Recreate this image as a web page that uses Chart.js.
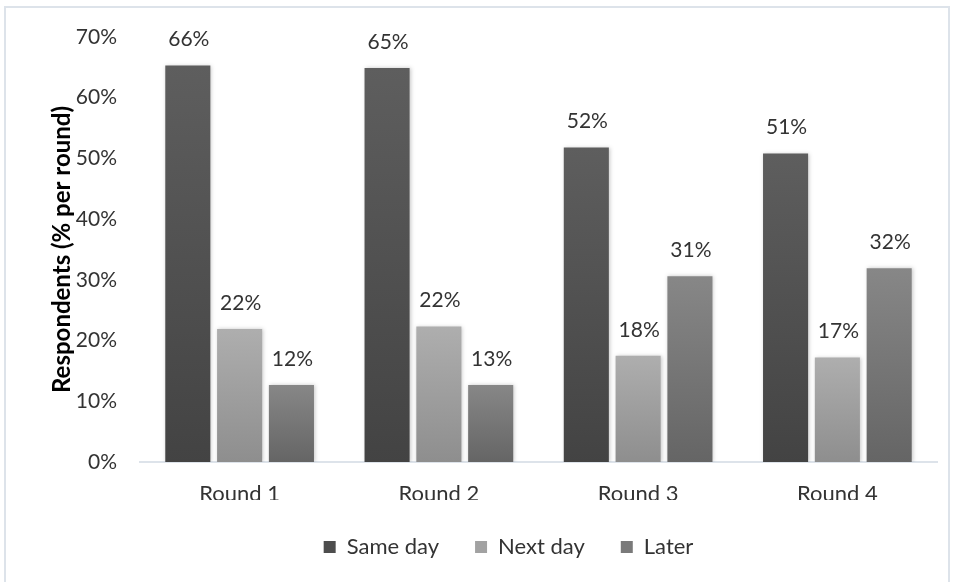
<!DOCTYPE html>
<html>
<head>
<meta charset="utf-8">
<script src="https://cdn.jsdelivr.net/npm/chart.js@4.4.1/dist/chart.umd.min.js"></script>
<style>
  html, body { margin: 0; padding: 0; background: #fff; }
  #wrap { position: relative; width: 955px; height: 582px; }
</style>
</head>
<body>
<div id="wrap"><canvas id="chart" width="955" height="582"></canvas></div>
<script>
// categories and series
const rounds = ['Round 1', 'Round 2', 'Round 3', 'Round 4'];
const seriesNames = ['Same day', 'Next day', 'Later'];
const sameDay = [65.3, 64.9, 51.8, 50.8];
const nextDay = [21.9, 22.3, 17.5, 17.2];
const later = [12.7, 12.7, 30.6, 31.9];
// labels as printed above the bars
const sameDayText = ['66%', '65%', '52%', '51%'];
const nextDayText = ['22%', '22%', '18%', '17%'];
const laterText = ['12%', '13%', '31%', '32%'];
const yTicks = [0, 10, 20, 30, 40, 50, 60, 70];

// gradient top / bottom colours per series, plus a flat colour for the legend
const gradTop = ['#5e5e5e', '#aeaeae', '#878787'];
const gradBottom = ['#434343', '#8e8e8e', '#656565'];
const legendColors = ['#4d4d4d', '#a2a2a2', '#7a7a7a'];

const FONT = 'Lato, "Open Sans", sans-serif';
const TEXT = '#333333';

// each bar gets its own vertical gradient
function barGradient(ctx) {
    const chart = ctx.chart;
    const y = chart.scales.y;
    if (!y || ctx.raw == null) return gradTop[ctx.datasetIndex];
    const top = y.getPixelForValue(ctx.raw);
    const bottom = y.getPixelForValue(0);
    if (!isFinite(top) || !isFinite(bottom) || top === bottom) return gradTop[ctx.datasetIndex];
    const g = chart.ctx.createLinearGradient(0, top, 0, bottom);
    g.addColorStop(0, gradTop[ctx.datasetIndex]);
    g.addColorStop(1, gradBottom[ctx.datasetIndex]);
    return g;
}

// outer frame of the picture
const framePlugin = {
    id: 'frame',
    beforeDraw(chart) {
        const c = chart.ctx;
        c.save();
        c.strokeStyle = '#dde3ea';
        c.lineWidth = 2;
        c.strokeRect(5, 7, 944, 590);
        c.restore();
    }
};

// legend sits a bit right of the canvas centre in the original
const legendShift = {
    id: 'legendShift',
    afterLayout(chart) {
        if (chart.legend) {
            chart.legend.left += 16;
            chart.legend.right += 16;
        }
    }
};

// soft shadow behind bars
const shadowPlugin = {
    id: 'barShadow',
    beforeDatasetsDraw(chart) {
        const c = chart.ctx;
        c.save();
        c.shadowColor = 'rgba(0,0,0,0.22)';
        c.shadowBlur = 4;
        c.shadowOffsetX = 1;
        c.shadowOffsetY = 0;
    },
    afterDatasetsDraw(chart) {
        chart.ctx.restore();
    }
};

// value labels above the bars
const valueLabels = {
    id: 'valueLabels',
    afterDatasetsDraw(chart) {
        const c = chart.ctx;
        const texts = [sameDayText, nextDayText, laterText];
        c.save();
        c.font = '21px ' + FONT;
        c.fillStyle = TEXT;
        c.textAlign = 'center';
        c.textBaseline = 'middle';
        chart.data.datasets.forEach((ds, di) => {
            chart.getDatasetMeta(di).data.forEach((bar, i) => {
                c.fillText(texts[di][i], bar.x + 1, bar.y - 26);
            });
        });
        c.restore();
    }
};

new Chart(document.getElementById('chart'), {
    type: 'bar',
    data: {
        labels: rounds,
        datasets: [
            { label: seriesNames[0], data: sameDay },
            { label: seriesNames[1], data: nextDay },
            { label: seriesNames[2], data: later }
        ].map(ds => Object.assign(ds, {
            backgroundColor: barGradient,
            borderWidth: 0,
            categoryPercentage: 0.78,
            barPercentage: 0.87
        }))
    },
    options: {
        responsive: false,
        animation: false,
        layout: { padding: { left: 48, right: 18, top: 37, bottom: 14 } },
        plugins: {
            tooltip: { enabled: false },
            legend: {
                position: 'bottom',
                labels: {
                    font: { family: FONT, size: 22 },
                    color: TEXT,
                    boxWidth: 12,
                    boxHeight: 12,
                    padding: 36,
                    generateLabels(chart) {
                        return Chart.defaults.plugins.legend.labels.generateLabels(chart).map((it, i) => {
                            it.fillStyle = legendColors[i];
                            it.strokeStyle = legendColors[i];
                            it.lineWidth = 0;
                            return it;
                        });
                    }
                }
            }
        },
        scales: {
            x: {
                grid: { display: false },
                border: { display: true, color: '#dde3ea', width: 2 },
                ticks: { font: { family: FONT, size: 22 }, color: TEXT, padding: 11 },
                afterFit(scale) { scale.height = 38; }
            },
            y: {
                min: 0,
                max: 70,
                afterBuildTicks(scale) {
                    scale.ticks = yTicks.map(v => ({ value: v }));
                },
                afterFit(scale) { scale.width = 92; },
                grid: { display: false },
                border: { display: false },
                ticks: {
                    font: { family: FONT, size: 21 },
                    color: TEXT,
                    padding: 15,
                    callback: v => v + '%'
                },
                title: {
                    display: true,
                    text: 'Respondents (% per round)',
                    font: { family: FONT, size: 24, weight: 'bold' },
                    color: '#000',
                    padding: 0
                }
            }
        }
    },
    plugins: [framePlugin, legendShift, shadowPlugin, valueLabels]
});
</script>
</body>
</html>
